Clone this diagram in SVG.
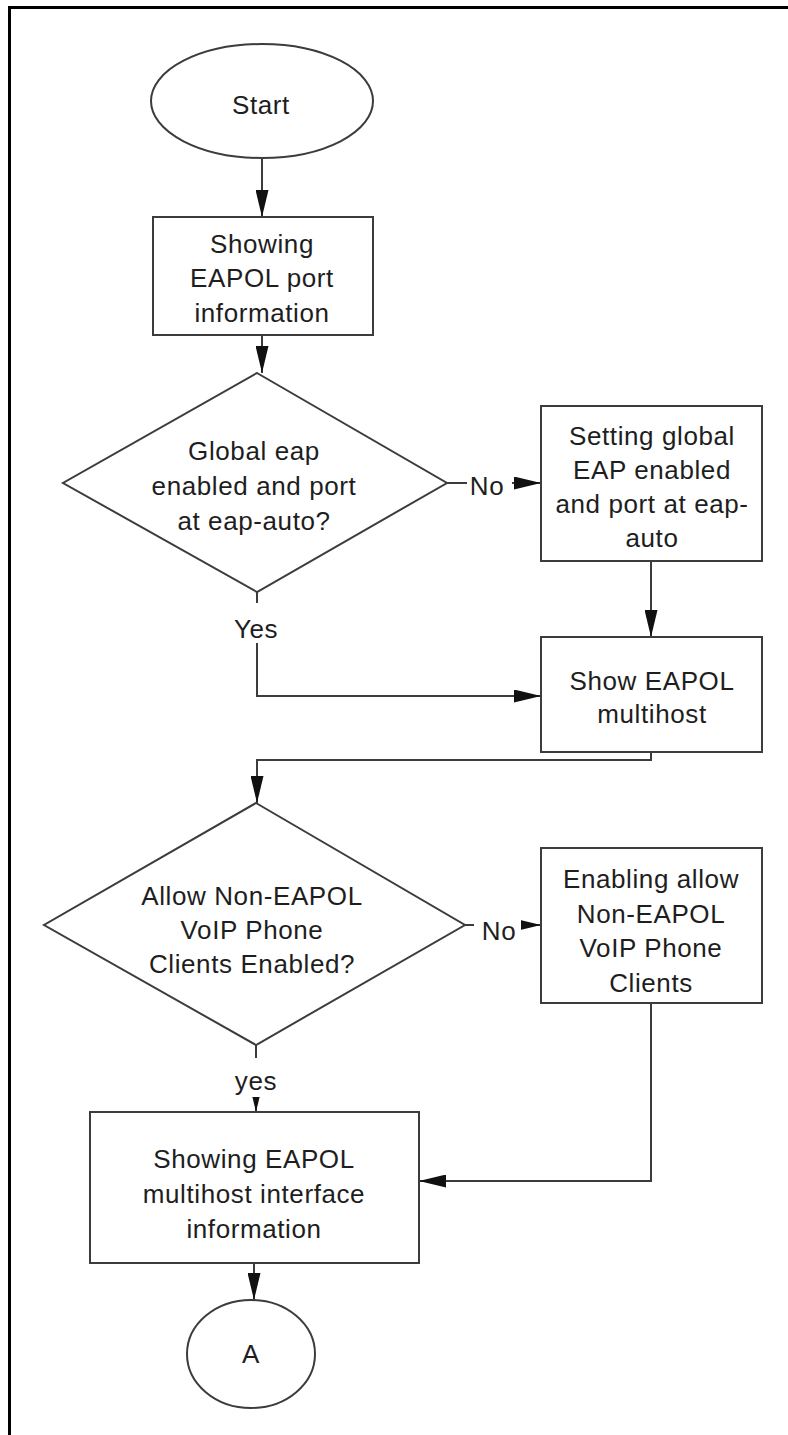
<svg xmlns="http://www.w3.org/2000/svg" width="788" height="1435" viewBox="0 0 788 1435">
<style>
  .shape { fill: #ffffff; stroke: #3c3c3c; stroke-width: 2; }
  .conn { fill: none; stroke: #3c3c3c; stroke-width: 2; }
  .t { font-family: "Liberation Sans", Arial, sans-serif; font-size: 26px; letter-spacing: 0.6px; fill: #1e1e1e; text-anchor: middle; }
  .lblbg { fill: #ffffff; stroke: none; }
  .frame { fill: none; stroke: #000000; stroke-width: 3; }
</style>
<defs>
  <marker id="arr" markerUnits="userSpaceOnUse" markerWidth="27" markerHeight="13" refX="27" refY="6.5" orient="auto">
    <path d="M0,0 L27,6.5 L0,13 Z" fill="#111111"/>
  </marker>
</defs>
<rect width="788" height="1435" fill="#ffffff"/>
<path class="frame" d="M9.5,1435 L9.5,7.5 L788,7.5"/>

<g id="connectors">
  <path class="conn" d="M262,158 L262,217" marker-end="url(#arr)"/>
  <path class="conn" d="M262,335 L262,373" marker-end="url(#arr)"/>
  <path class="conn" d="M447,483 L541,483" marker-end="url(#arr)"/>
  <path class="conn" d="M651,561 L651,637" marker-end="url(#arr)"/>
  <path class="conn" d="M257,592 L257,696 L541,696" marker-end="url(#arr)"/>
  <path class="conn" d="M651,752 L651,760 L257,760 L257,803" marker-end="url(#arr)"/>
  <path class="conn" d="M465,925 L541,925" marker-end="url(#arr)"/>
  <path class="conn" d="M256,1045 L256,1112" marker-end="url(#arr)"/>
  <path class="conn" d="M651,1003 L651,1181 L419,1181" marker-end="url(#arr)"/>
  <path class="conn" d="M254,1263 L254,1300" marker-end="url(#arr)"/>
  <g id="edge-labels">
    <rect class="lblbg" x="467" y="470" width="45" height="30"/>
    <text class="t" x="487" y="495">No</text>
    <rect class="lblbg" x="232" y="603" width="48" height="40"/>
    <text class="t" x="256" y="638">Yes</text>
    <rect class="lblbg" x="474" y="912" width="47" height="32"/>
    <text class="t" x="499" y="940">No</text>
    <rect class="lblbg" x="230" y="1058" width="52" height="39"/>
    <text class="t" x="256" y="1090">yes</text>
  </g>
</g>

<g id="start">
  <ellipse class="shape" cx="262" cy="101" rx="111" ry="57"/>
  <text class="t" x="261" y="114">Start</text>
</g>

<g id="show-eapol-port">
  <rect class="shape" x="153" y="217" width="220" height="118"/>
  <text class="t" x="262" y="253">Showing</text>
  <text class="t" x="262" y="287">EAPOL port</text>
  <text class="t" x="262" y="322">information</text>
</g>

<g id="decision-global-eap">
  <polygon class="shape" points="257,373 447,483 257,592 63,483"/>
  <text class="t" x="254" y="460">Global eap</text>
  <text class="t" x="254" y="495">enabled and port</text>
  <text class="t" x="254" y="530">at eap-auto?</text>
</g>

<g id="set-global-eap">
  <rect class="shape" x="541" y="406" width="221" height="155"/>
  <text class="t" x="652" y="445">Setting global</text>
  <text class="t" x="652" y="479">EAP enabled</text>
  <text class="t" x="652" y="513">and port at eap-</text>
  <text class="t" x="652" y="547">auto</text>
</g>

<g id="show-eapol-multihost">
  <rect class="shape" x="541" y="637" width="221" height="115"/>
  <text class="t" x="652" y="690">Show EAPOL</text>
  <text class="t" x="652" y="723">multihost</text>
</g>

<g id="decision-non-eapol">
  <polygon class="shape" points="256,803 465,925 256,1045 44,925"/>
  <text class="t" x="252" y="905">Allow Non-EAPOL</text>
  <text class="t" x="252" y="939">VoIP Phone</text>
  <text class="t" x="252" y="973">Clients Enabled?</text>
</g>

<g id="enable-non-eapol">
  <rect class="shape" x="541" y="848" width="221" height="155"/>
  <text class="t" x="651" y="888">Enabling allow</text>
  <text class="t" x="651" y="923">Non-EAPOL</text>
  <text class="t" x="651" y="957">VoIP Phone</text>
  <text class="t" x="651" y="992">Clients</text>
</g>

<g id="show-multihost-interface">
  <rect class="shape" x="90" y="1112" width="329" height="151"/>
  <text class="t" x="254" y="1168">Showing EAPOL</text>
  <text class="t" x="254" y="1203">multihost interface</text>
  <text class="t" x="254" y="1238">information</text>
</g>

<g id="connector-a">
  <ellipse class="shape" cx="251" cy="1354" rx="64" ry="54"/>
  <text class="t" x="251" y="1363">A</text>
</g>
</svg>
